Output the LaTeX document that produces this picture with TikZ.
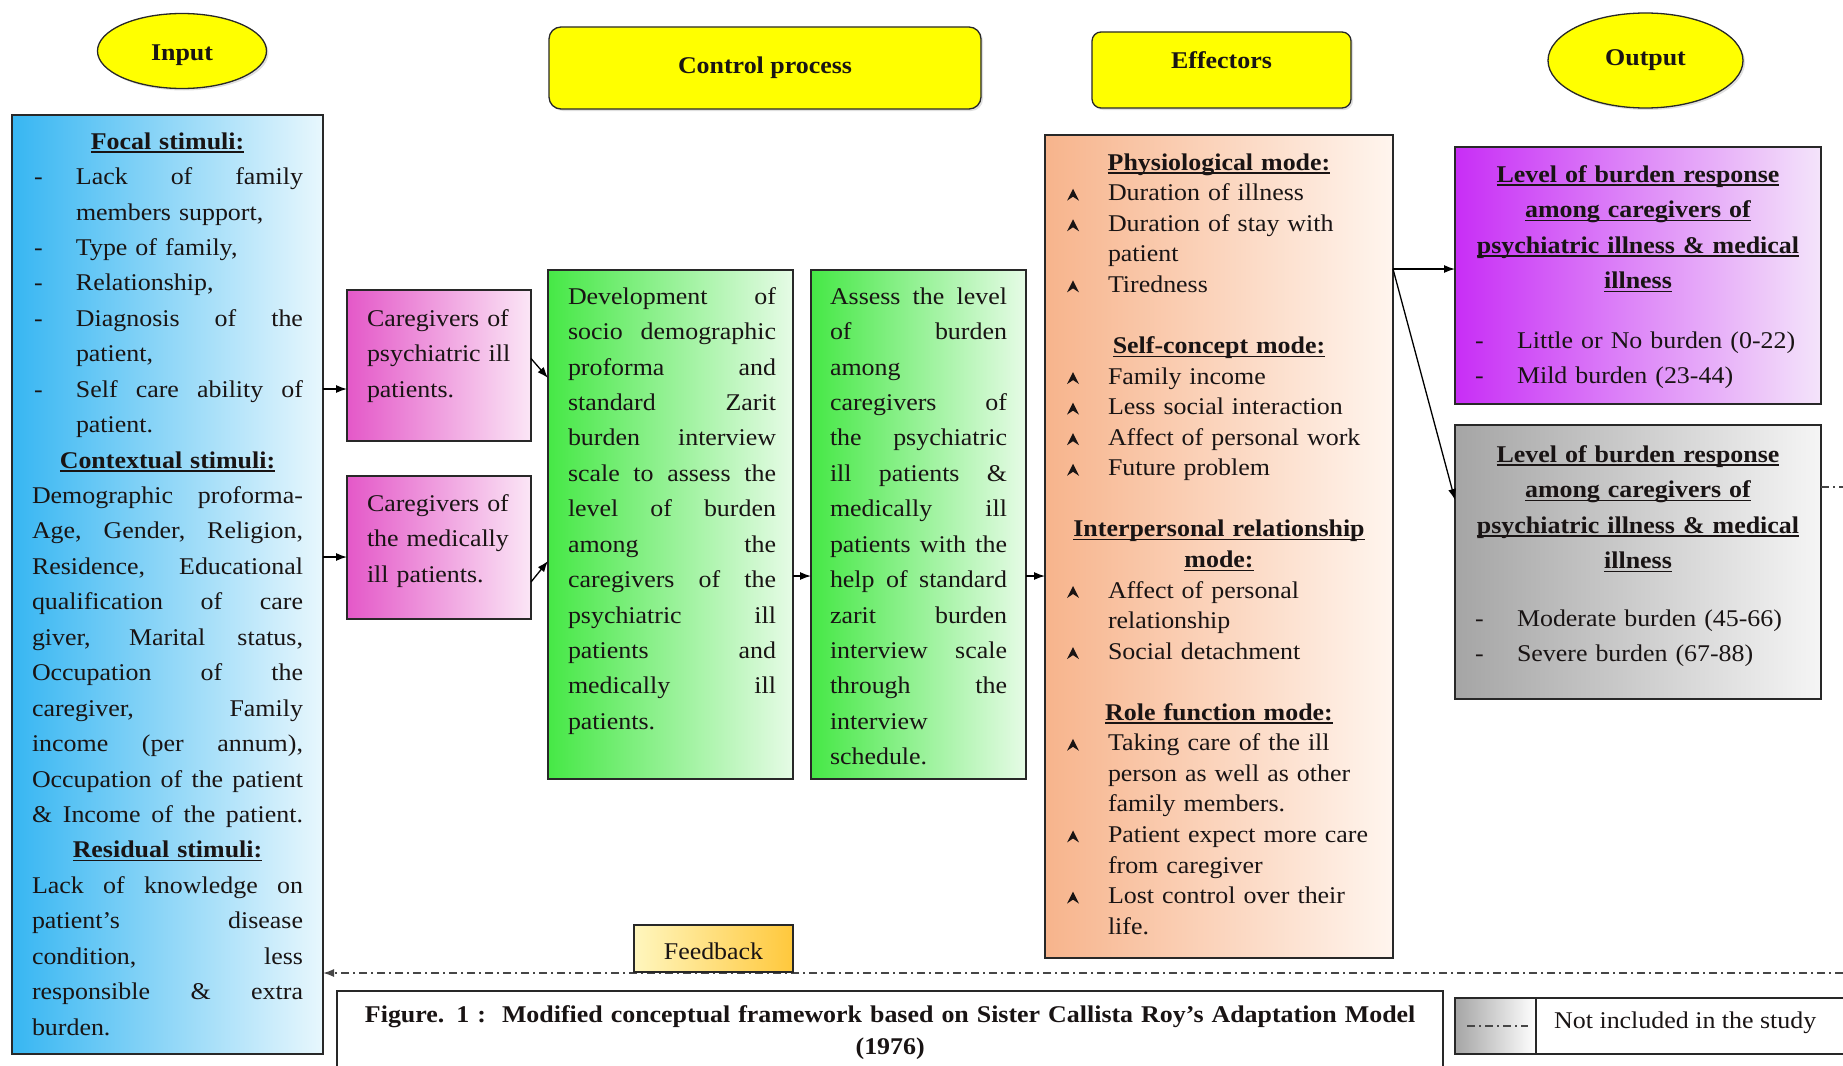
\documentclass[tikz,border=0pt]{standalone}
\usepackage{fontspec}
\setmainfont{Liberation Serif}[FakeStretch=1.08]
\usetikzlibrary{arrows.meta,shapes.geometric,shadows,calc}

\definecolor{inL}{RGB}{55,182,242}
\definecolor{inR}{RGB}{232,247,253}
\definecolor{pkL}{RGB}{228,88,200}
\definecolor{pkR}{RGB}{251,230,246}
\definecolor{grL}{RGB}{70,232,70}
\definecolor{grR}{RGB}{230,251,230}
\definecolor{efL}{RGB}{247,180,140}
\definecolor{efR}{RGB}{255,245,238}
\definecolor{puL}{RGB}{200,46,246}
\definecolor{puR}{RGB}{244,228,250}
\definecolor{gyL}{RGB}{165,165,165}
\definecolor{gyR}{RGB}{245,245,245}
\definecolor{fbL}{RGB}{255,246,190}
\definecolor{fbR}{RGB}{255,200,60}
\definecolor{ylw}{RGB}{255,255,0}
\definecolor{edgec}{RGB}{40,40,40}
\definecolor{txt}{RGB}{25,20,20}
\definecolor{dashc}{RGB}{70,70,70}

\newcommand\xSp{\spaceskip=0.27em plus 1fil\relax\xspaceskip=\spaceskip}
\newcommand\xUL[1]{\setbox0\hbox{#1}\rlap{\rule[-3.5pt]{\wd0}{1.3pt}}\box0}
\newcommand\xJL[1]{\par\hbox to\linewidth{\xSp\strut#1}}
\newcommand\xLL[1]{\par\hbox to\linewidth{\strut#1\hfil}}
\newcommand\xCL[1]{\par\hbox to\linewidth{\strut\hfil#1\hfil}}
\newcommand\xIL[3]{\par\hbox to\linewidth{\strut\hbox to#1{#2\hfil}#3\hfil}}
\newcommand\xIJ[3]{\par\hbox to\linewidth{\xSp\strut\hbox to#1{#2\hfil}#3}}
\newcommand\xTri{\kern12pt\tikz[x=1pt,y=1pt,baseline=0pt]\fill[txt] (0,0)--(6,12)--(12,0)--(6,4)--cycle;}
\newcommand\xDsh{\kern2pt-}
\newcommand\xOdsh{\kern10pt-}

\tikzset{
  bx/.style={draw=edgec, line width=1.3pt, anchor=north west, inner sep=0pt, outer sep=0pt},
  tx/.style={anchor=north west, inner sep=0pt, outer sep=0pt, text width=#1, text=txt,
     font=\fontsize{24}{35.44}\selectfont},
  txe/.style={anchor=north west, inner sep=0pt, outer sep=0pt, text width=#1, text=txt,
     font=\fontsize{24}{30.56}\selectfont},
  head/.style={draw=edgec, line width=1.3pt, fill=ylw, text=txt,
     font=\bfseries\fontsize{24}{28}\selectfont,
     drop shadow={opacity=0.25, shadow xshift=2pt, shadow yshift=-2pt}},
  arr/.style={-{Latex[length=11pt,width=8pt]}, line width=1.3pt, black},
  dd/.style={line width=1.6pt, draw=dashc, dash pattern=on 8pt off 4pt on 2pt off 4pt},
}

\begin{document}
\begin{tikzpicture}[x=1pt,y=-1pt]
\useasboundingbox (0,0) rectangle (1843,1065);
\fill[white] (0,0) rectangle (1843,1065);
\clip (0,0) rectangle (1843,1065);

% ---------- headers ----------
\node[head, ellipse, minimum width=169pt, minimum height=75pt, text height=23.5pt, text depth=5pt] (inH) at (182,51) {Input};
\node[head, rectangle, rounded corners=12pt, minimum width=432pt, minimum height=82pt] (cpH) at (765,68) {Control process};
\node[head, rectangle, rounded corners=9pt, minimum width=259pt, minimum height=76pt, text height=17pt, text depth=20pt] (efH) at (1221.5,70) {Effectors};
\node[head, ellipse, minimum width=195pt, minimum height=95pt] (ouH) at (1645.5,60.5) {Output};

% ---------- input ----------
\node[bx, left color=inL, right color=inR, minimum width=311pt, minimum height=939pt] (inp) at (12,115) {};
\node[tx=271pt] (inpT) at (32,113.7) {%
\xCL{\xUL{\textbf{Focal stimuli:}}}
\xIJ{44pt}{\xDsh}{Lack of family}
\xIL{44pt}{}{members support,}
\xIL{44pt}{\xDsh}{Type of family,}
\xIL{44pt}{\xDsh}{Relationship,}
\xIJ{44pt}{\xDsh}{Diagnosis of the}
\xIL{44pt}{}{patient,}
\xIJ{44pt}{\xDsh}{Self care ability of}
\xIL{44pt}{}{patient.}
\xCL{\xUL{\textbf{Contextual stimuli:}}}
\xJL{Demographic proforma-}
\xJL{Age, Gender, Religion,}
\xJL{Residence, Educational}
\xJL{qualification of care}
\xJL{giver, Marital status,}
\xJL{Occupation of the}
\xJL{caregiver, Family}
\xJL{income (per annum),}
\xJL{Occupation of the patient}
\xJL{\& Income of the patient.}
\xCL{\xUL{\textbf{Residual stimuli:}}}
\xJL{Lack of knowledge on}
\xJL{patient’s disease}
\xJL{condition, less}
\xJL{responsible \& extra}
\xLL{burden.}};

% ---------- caregivers ----------
\node[bx, left color=pkL, right color=pkR, minimum width=184pt, minimum height=151pt] (cg1) at (347,290) {};
\node[tx=160pt] (cg1T) at (367,290.7) {%
\xLL{Caregivers of}
\xLL{psychiatric ill}
\xLL{patients.}};
\node[bx, left color=pkL, right color=pkR, minimum width=184pt, minimum height=143pt] (cg2) at (347,476) {};
\node[tx=160pt] (cg2T) at (367,475.7) {%
\xLL{Caregivers of}
\xLL{the medically}
\xLL{ill patients.}};

% ---------- control process ----------
\node[bx, left color=grL, right color=grR, minimum width=245pt, minimum height=509pt] (dev) at (548,270) {};
\node[tx=208pt] (devT) at (568,268.7) {%
\xJL{Development of}
\xJL{socio demographic}
\xJL{proforma and}
\xJL{standard Zarit}
\xJL{burden interview}
\xJL{scale to assess the}
\xJL{level of burden}
\xJL{among the}
\xJL{caregivers of the}
\xJL{psychiatric ill}
\xJL{patients and}
\xJL{medically ill}
\xLL{patients.}};
\node[bx, left color=grL, right color=grR, minimum width=215pt, minimum height=509pt] (ass) at (811,270) {};
\node[tx=177pt] (assT) at (830,268.7) {%
\xJL{Assess the level}
\xJL{of burden}
\xLL{among}
\xJL{caregivers of}
\xJL{the psychiatric}
\xJL{ill patients \&}
\xJL{medically ill}
\xJL{patients with the}
\xJL{help of standard}
\xJL{zarit burden}
\xJL{interview scale}
\xJL{through the}
\xLL{interview}
\xLL{schedule.}};

% ---------- effectors ----------
\node[bx, left color=efL, right color=efR, minimum width=348pt, minimum height=823pt] (eff) at (1045,135) {};
\node[txe=328pt] (effT) at (1055,139.6) {%
\xCL{\xUL{\textbf{Physiological mode:}}}
\xIL{53pt}{\xTri}{Duration of illness}
\xIL{53pt}{\xTri}{Duration of stay with}
\xIL{53pt}{}{patient}
\xIL{53pt}{\xTri}{Tiredness}
\xLL{}
\xCL{\xUL{\textbf{Self-concept mode:}}}
\xIL{53pt}{\xTri}{Family income}
\xIL{53pt}{\xTri}{Less social interaction}
\xIL{53pt}{\xTri}{Affect of personal work}
\xIL{53pt}{\xTri}{Future problem}
\xLL{}
\xCL{\xUL{\textbf{Interpersonal relationship}}}
\xCL{\xUL{\textbf{mode:}}}
\xIL{53pt}{\xTri}{Affect of personal}
\xIL{53pt}{}{relationship}
\xIL{53pt}{\xTri}{Social detachment}
\xLL{}
\xCL{\xUL{\textbf{Role function mode:}}}
\xIL{53pt}{\xTri}{Taking care of the ill}
\xIL{53pt}{}{person as well as other}
\xIL{53pt}{}{family members.}
\xIL{53pt}{\xTri}{Patient expect more care}
\xIL{53pt}{}{from caregiver}
\xIL{53pt}{\xTri}{Lost control over their}
\xIL{53pt}{}{life.}};

% ---------- output ----------
\node[bx, left color=puL, right color=puR, minimum width=366pt, minimum height=257pt] (pur) at (1455,147) {};
\node[tx=346pt] (purT) at (1465,146.7) {%
\xCL{\xUL{\textbf{Level of burden response}}}
\xCL{\xUL{\textbf{among caregivers of}}}
\xCL{\xUL{\textbf{psychiatric illness \& medical}}}
\xCL{\xUL{\textbf{illness}}}
\par\vskip 24.6pt
\xIL{52pt}{\xOdsh}{Little or No burden (0-22)}
\xIL{52pt}{\xOdsh}{Mild burden (23-44)}};
\node[bx, left color=gyL, right color=gyR, minimum width=366pt, minimum height=274pt] (gry) at (1455,425) {};
\node[tx=346pt] (gryT) at (1465,426.7) {%
\xCL{\xUL{\textbf{Level of burden response}}}
\xCL{\xUL{\textbf{among caregivers of}}}
\xCL{\xUL{\textbf{psychiatric illness \& medical}}}
\xCL{\xUL{\textbf{illness}}}
\par\vskip 22.6pt
\xIL{52pt}{\xOdsh}{Moderate burden (45-66)}
\xIL{52pt}{\xOdsh}{Severe burden (67-88)}};

% ---------- connectors ----------
\coordinate (a1) at ([yshift=-23.5pt]cg1.west);
\coordinate (a2) at ([yshift=-9.5pt]cg2.west);
\draw[arr] (inp.east |- a1) -- (a1);
\draw[arr] (inp.east |- a2) -- (a2);
\draw[arr] ([yshift=7pt]cg1.east) -- ([yshift=146.5pt]dev.west);
\draw[arr] ([yshift=-34.5pt]cg2.east) -- ([yshift=-36.5pt]dev.west);
\draw[arr] ([yshift=-51.5pt]dev.east) -- ([yshift=-51.5pt]ass.west);
\draw[arr] ([yshift=-51.5pt]ass.east) -- ([yshift=-29.5pt]eff.west);
\coordinate (ea) at ([yshift=277.5pt]eff.east);
\draw[arr] (ea) -- (ea -| pur.west);
\draw[arr] (ea) -- ([yshift=62pt]gry.west);

% ---------- feedback / not included ----------
\coordinate (gEnd) at (1843,487);
\draw[dd] (gEnd -| gry.east) -- (gEnd);
\coordinate (fbEnd) at (1843,973);
\draw[dd, -{Latex[length=11pt,width=8pt]}] (fbEnd) -- (fbEnd -| inp.east);
\node[draw=edgec, line width=1.3pt, left color=fbL, right color=fbR, minimum width=159pt, minimum height=47pt,
      inner sep=0pt, text=txt, font=\fontsize{24}{28}\selectfont, text height=24pt, text depth=3pt] (fb) at (713.5,948.5) {Feedback};

% ---------- caption ----------
\node[bx, fill=white, minimum width=1106pt, minimum height=100pt] (cap) at (337,991) {};
\node[anchor=north west, inner sep=0pt, text width=1106pt, text=txt,
      font=\bfseries\fontsize{24}{32}\selectfont] (capT) at (337,990.4) {%
\xCL{Figure. 1 :\ \ Modified conceptual framework based on Sister Callista Roy’s Adaptation Model}
\xCL{(1976)}};

% ---------- legend ----------
\node[bx, fill=white, minimum width=400pt, minimum height=56pt] (leg) at (1455,998) {};
\node[bx, left color=gyL, right color=white, minimum width=81pt, minimum height=56pt] (legC) at (1455,998) {};
\coordinate (lA) at (1467,1026);
\coordinate (lB) at (1528,1026);
\draw[dd, line width=1.3pt] (lA) -- (lB);
\node[anchor=base west, inner sep=0pt, text=txt, font=\fontsize{24}{28}\selectfont] (legT) at (1554,1028) {Not included in the study};
\end{tikzpicture}
\end{document}
